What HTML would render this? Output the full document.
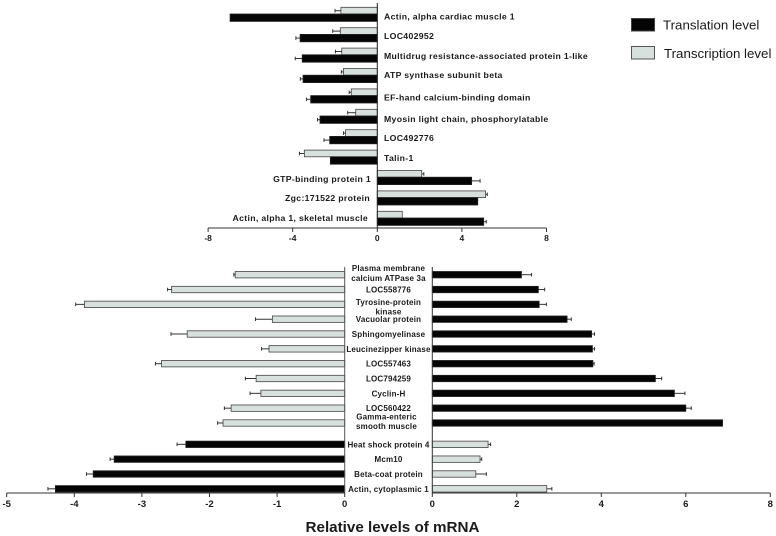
<!DOCTYPE html>
<html>
<head>
<meta charset="utf-8">
<title>Relative levels of mRNA</title>
<style>
html,body{margin:0;padding:0;background:#fff;}
svg{display:block;font-family:"Liberation Sans",Arial,sans-serif;filter:blur(0.35px);}
text{fill:#1a1a1a;}
.lab{font-size:8.7px;font-weight:bold;letter-spacing:.32px;}
.lab-bottom{font-size:8px;font-weight:bold;letter-spacing:.17px;}
.tick{font-size:8.5px;font-weight:bold;}
.tick-bottom{font-size:9.5px;font-weight:bold;}
</style>
</head>
<body>
<svg id="chart" xmlns="http://www.w3.org/2000/svg" width="776" height="536" viewBox="0 0 776 536">
<rect x="631.5" y="18.5" width="23" height="12.5" fill="#050505" stroke="#444"/>
<text x="663" y="29.5" font-size="13.3">Translation level</text>
<rect x="631.5" y="46.5" width="23" height="12.5" fill="#d8e0de" stroke="#555"/>
<text x="664" y="58" font-size="13.3">Transcription level</text>
<text x="392.5" y="532" text-anchor="middle" font-size="15.2" font-weight="bold" fill="#111">Relative levels of mRNA</text>
</svg>
<script>
// ---- top panel data ----
var topCategories = ["Actin, alpha cardiac muscle 1","LOC402952","Multidrug resistance-associated protein 1-like","ATP synthase subunit beta","EF-hand calcium-binding domain","Myosin light chain, phosphorylatable","LOC492776","Talin-1","GTP-binding protein 1","Zgc:171522 protein","Actin, alpha 1, skeletal muscle"];
var topTranscription = [-1.72,-1.75,-1.68,-1.6,-1.23,-1.02,-1.5,-3.45,2.1,5.12,1.18];
var topTranscriptionErr = [0.28,0.36,0.3,0.1,0.1,0.38,0.1,0.23,0.1,0.08,0];
var topTranslation = [-6.96,-3.65,-3.55,-3.51,-3.15,-2.71,-2.25,-2.22,4.46,4.75,5.03];
var topTranslationErr = [0,0.2,0.33,0.13,0.2,0.12,0.27,0,0.4,0,0.12];
var topTicks = [-8,-4,0,4,8];

// ---- bottom panel data ----
var bottomCategories = [["Plasma membrane","calcium ATPase 3a"],["LOC558776"],["Tyrosine-protein","kinase"],["Vacuolar protein"],["Sphingomyelinase"],["Leucinezipper kinase"],["LOC557463"],["LOC794259"],["Cyclin-H"],["LOC560422"],["Gamma-enteric","smooth muscle"],["Heat shock protein 4"],["Mcm10"],["Beta-coat protein"],["Actin, cytoplasmic 1"]];
var bottomDown = [-1.62,-2.56,-3.85,-1.07,-2.33,-1.12,-2.71,-1.31,-1.24,-1.68,-1.8,-2.35,-3.41,-3.72,-4.28];
var bottomDownErr = [0.02,0.06,0.13,0.25,0.24,0.11,0.09,0.16,0.16,0.1,0.08,0.13,0.06,0.1,0.11];
var bottomUp = [2.11,2.51,2.53,3.19,3.77,3.79,3.8,5.28,5.73,6,6.87,1.32,1.13,1.03,2.71];
var bottomUpErr = [0.24,0.15,0.17,0.1,0.07,0.05,0.03,0.15,0.25,0.13,0,0.06,0.04,0.25,0.12];
var bottomLeftTicks = [-5,-4,-3,-2,-1,0];
var bottomRightTicks = [0,2,4,6,8];

// ---- axis functions ----
var svg = document.getElementById('chart');
var NS = 'http://www.w3.org/2000/svg';
var BLACK = '#050505', GREY = '#d8e0de';
function topX(v){ return 377.3 + v * 21.15; }
function topY(i){ return 14 + i * 20.4; }
function leftX(v){ return 344.7 + v * 67.6; }
function rightX(v){ return 432.3 + v * 42.25; }
function bottomY(i){ return 274.7 + i * 14.83 + (i >= 11 ? 6.5 : 0); }

function make(tag, attrs){
  var el = document.createElementNS(NS, tag);
  for (var k in attrs) el.setAttribute(k, attrs[k]);
  svg.appendChild(el);
  return el;
}
function line(x1, y1, x2, y2, color, name){
  var el = make('line', {x1:x1, y1:y1, x2:x2, y2:y2, stroke:color, 'stroke-width':1});
  
  
  return el;
}
function bar(x0, x1, y, h, fill, name){
  var el = make('rect', {x:Math.min(x0,x1), y:y, width:Math.abs(x1-x0), height:h, fill:fill, stroke: fill===BLACK ? '#222' : '#444', 'stroke-width':0.8});
  
  
  return el;
}
function errorBar(scale, v, e, y, name){
  if (!e) return;
  var dir = v < 0 ? -1 : 1;
  var xa = scale(v), xb = scale(v + dir * e);
  line(xa, y, xb, y, '#333', name);
  line(xb, y-1.8, xb, y+1.8, '#333', name + '-cap');
}
function label(txt, x, y, anchor, cls, name){
  var el = make('text', {x:x, y:y, 'text-anchor':anchor, 'class':cls});
  el.textContent = txt;
  
  
  return el;
}

// ---- top panel ----
var topNudge = [2.7,1.6,1.2,0,2,3,1.6,1.2,1.8,0.4,0];
var topRightEnd = [0,0,0,0,0,0,0,0,371,370,368];
topCategories.forEach(function(name, i){
  var b = topY(i);
  bar(topX(0), topX(topTranscription[i]), b-6.7, 6.7, GREY, 'top-transcription-bar-' + i);
  errorBar(topX, topTranscription[i], topTranscriptionErr[i], b-3.3, 'top-transcription-error-' + i);
  errorBar(topX, topTranslation[i], topTranslationErr[i], b+3.7, 'top-translation-error-' + i);
  bar(topX(0), topX(topTranslation[i]), b, 7.4, BLACK, 'top-translation-bar-' + i);
  var ly = b + topNudge[i] + 3;
  if (topTranslation[i] < 0) label(name, 384, ly, 'start', 'lab', 'top-category-label-' + i);
  else label(name, topRightEnd[i], ly, 'end', 'lab', 'top-category-label-' + i);
});
line(topX(0), 3, topX(0), 228, '#222', 'top-y-axis');
line(topX(-8), 228, topX(8), 228, '#333', 'top-x-axis');
topTicks.forEach(function(t){
  line(topX(t), 228, topX(t), 232, '#333', 'top-x-tick-' + t);
  label(String(t), topX(t), 241, 'middle', 'tick', 'top-x-tick-label-' + t);
});

// ---- bottom panel ----
bottomCategories.forEach(function(lines, i){
  var c = bottomY(i);
  var leftFill = i < 11 ? GREY : BLACK;
  var rightFill = i < 11 ? BLACK : GREY;
  errorBar(leftX, bottomDown[i], bottomDownErr[i], c, 'bottom-left-error-' + i);
  errorBar(rightX, bottomUp[i], bottomUpErr[i], c, 'bottom-right-error-' + i);
  bar(leftX(0), leftX(bottomDown[i]), c-3.2, 6.4, leftFill, 'bottom-left-bar-' + i);
  bar(rightX(0), rightX(bottomUp[i]), c-3.2, 6.4, rightFill, 'bottom-right-bar-' + i);
  if (lines.length === 2) {
    var up = i === 10 ? 6.5 : (i === 2 ? 2.5 : 6.5);
    var cx = i === 10 ? 386.5 : 388.5;
    label(lines[0], cx, c - up + 3, 'middle', 'lab-bottom', 'bottom-category-label-' + i + '-line-1');
    label(lines[1], cx, c - up + 12.7, 'middle', 'lab-bottom', 'bottom-category-label-' + i + '-line-2');
  } else {
    label(lines[0], 388.5, c + 3, 'middle', 'lab-bottom', 'bottom-category-label-' + i);
  }
});
line(leftX(0), 267, leftX(0), 493, '#555', 'bottom-left-y-axis');
line(rightX(0), 267, rightX(0), 493, '#333', 'bottom-right-y-axis');
line(leftX(-5), 493, leftX(0), 493, '#333', 'bottom-left-x-axis');
line(rightX(0), 493, rightX(8), 493, '#333', 'bottom-right-x-axis');
bottomLeftTicks.forEach(function(t){
  line(leftX(t), 493, leftX(t), 497, '#333', 'bottom-left-tick-' + t);
  label(String(t), leftX(t), 507, 'middle', 'tick-bottom', 'bottom-left-tick-label-' + t);
});
bottomRightTicks.forEach(function(t){
  line(rightX(t), 493, rightX(t), 497, '#333', 'bottom-right-tick-' + t);
  label(String(t), rightX(t), 507, 'middle', 'tick-bottom', 'bottom-right-tick-label-' + t);
});
</script>
</body>
</html>
